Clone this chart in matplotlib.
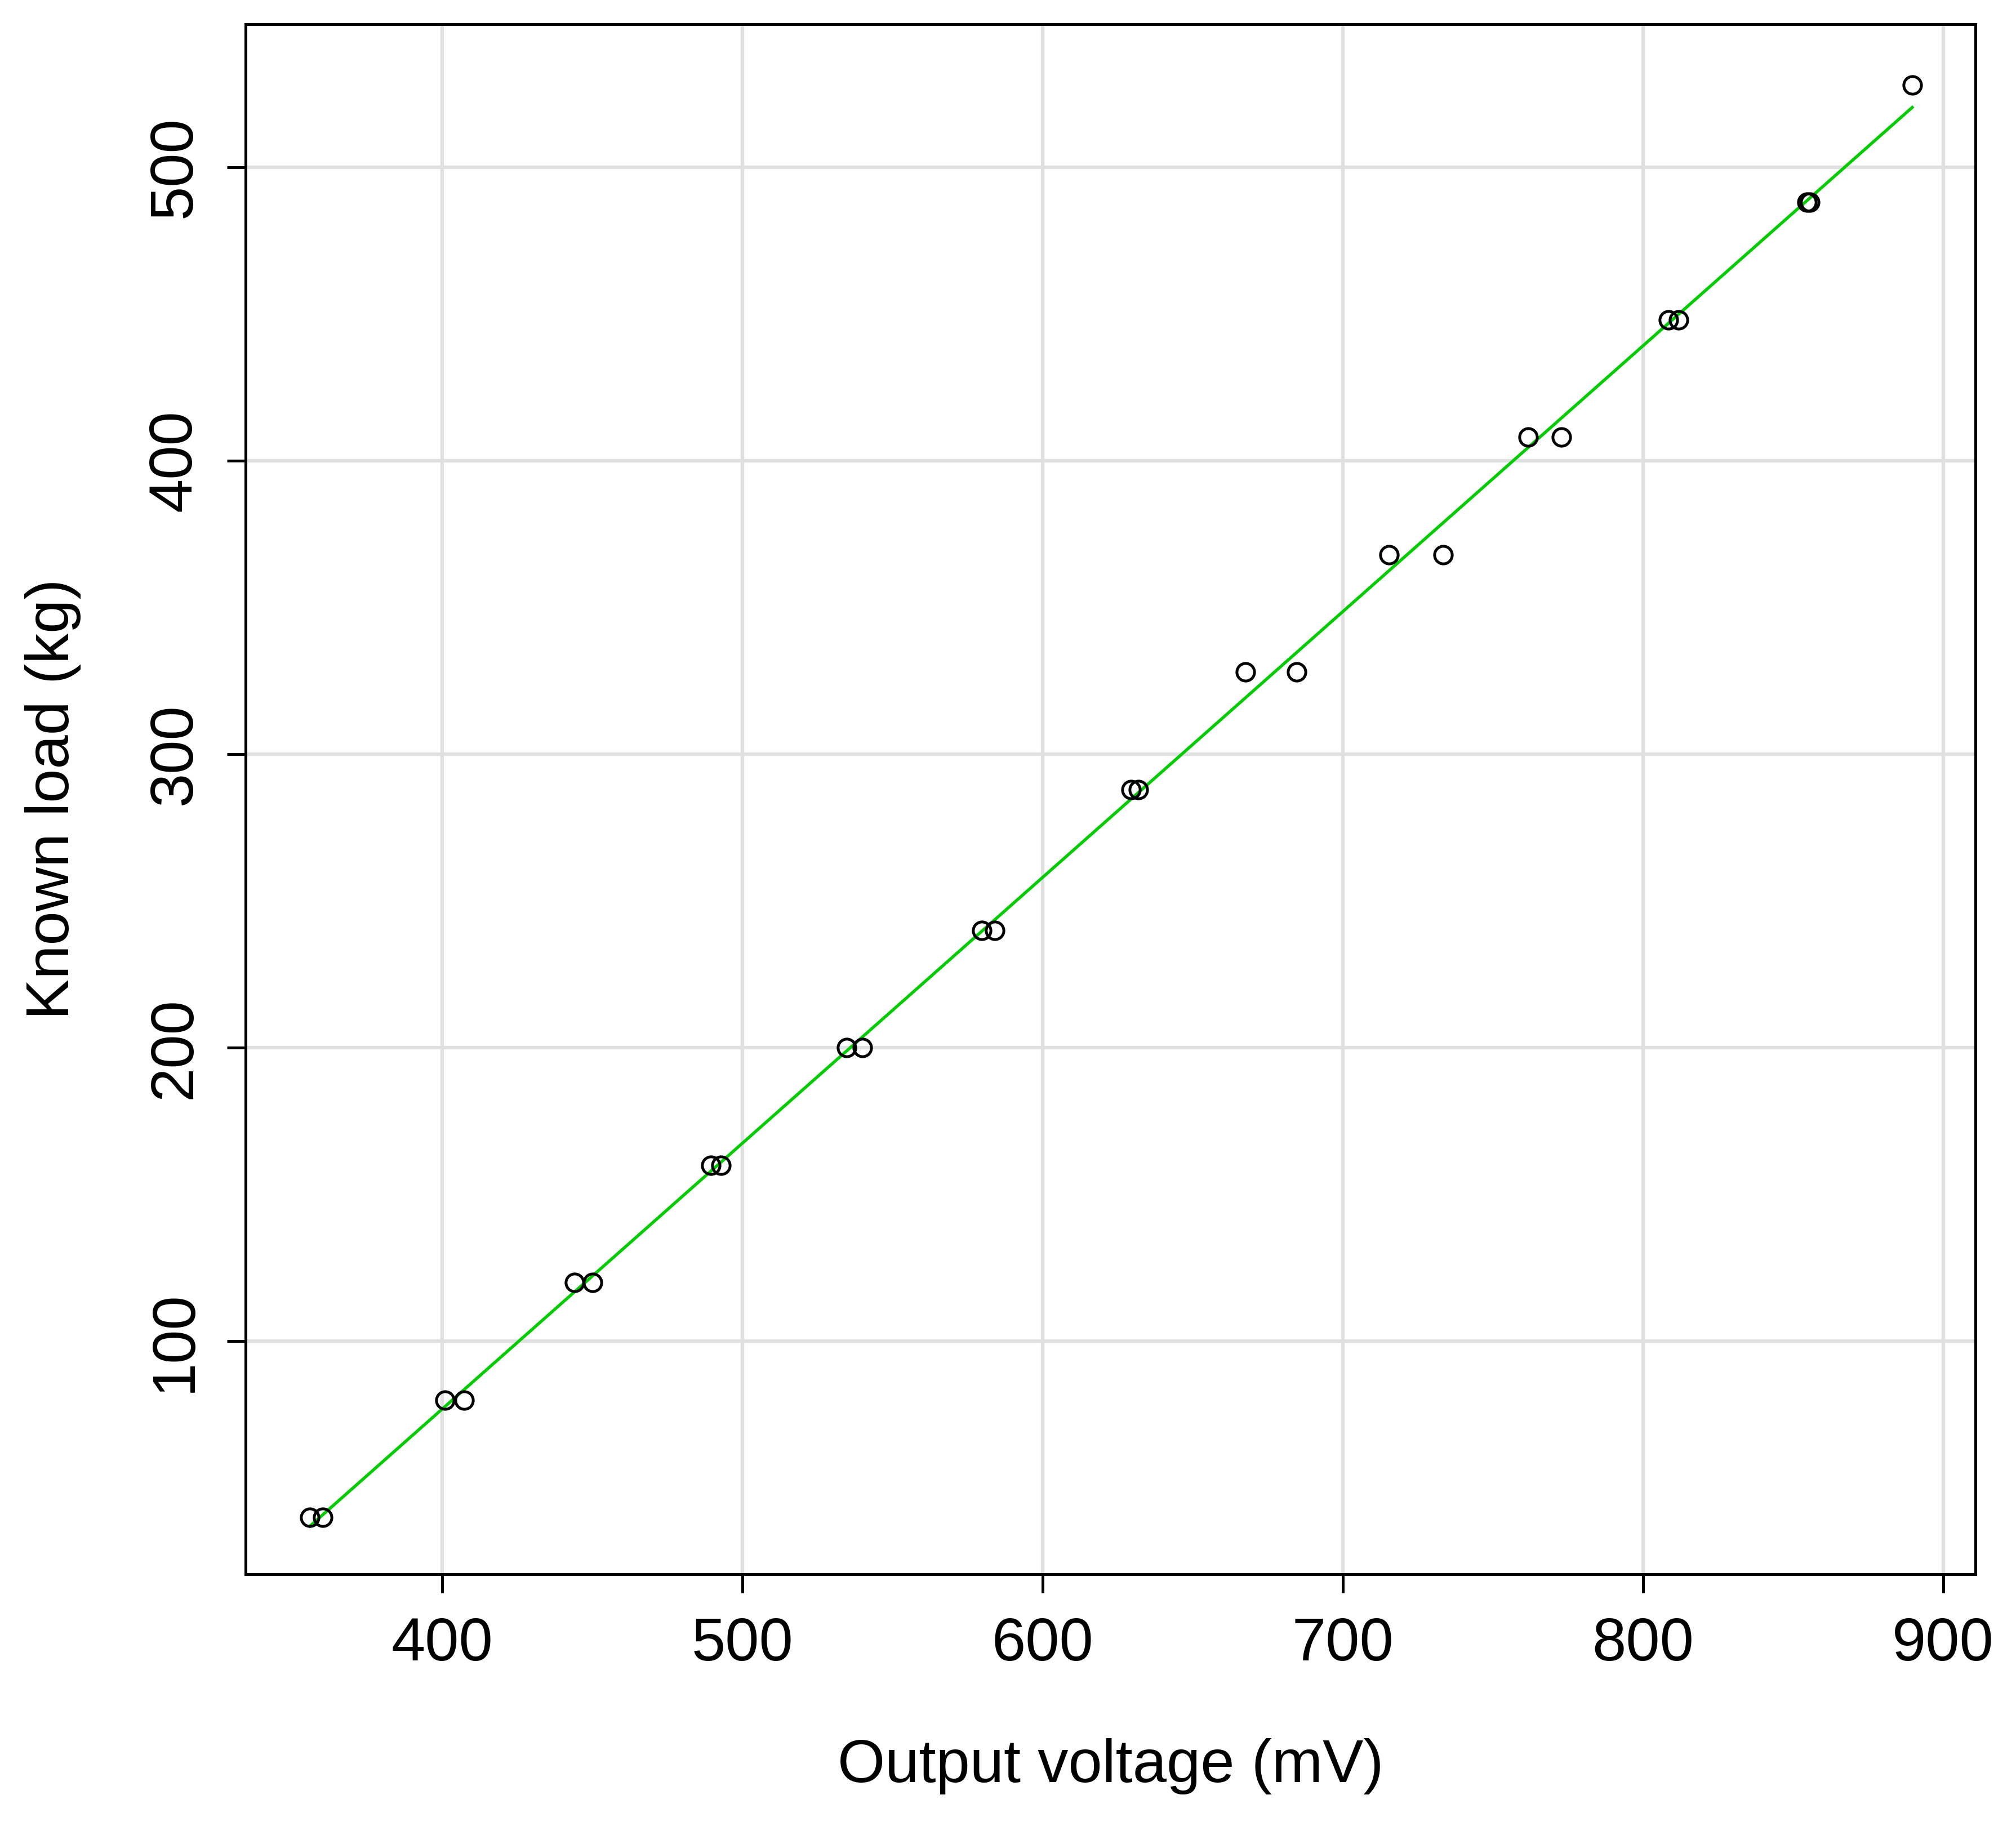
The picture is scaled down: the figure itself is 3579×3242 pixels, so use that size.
import numpy as np
import matplotlib
matplotlib.use("Agg")
import matplotlib.pyplot as plt

plt.rcParams['font.family'] = ['Liberation Sans', 'DejaVu Sans']

voltage = [355.9, 360.2, 400.9, 407.3, 444.1, 450.1, 489.5, 492.9, 534.8, 540.0,
           579.8, 584.1, 629.5, 632.0, 667.5, 684.7, 715.5, 733.5, 761.7, 772.9,
           808.4, 811.8, 854.6, 855.5, 889.7]
load = [40, 40, 80, 80, 120, 120, 160, 160, 200, 200,
        240, 240, 288, 288, 328, 328, 368, 368, 408, 408,
        448, 448, 488, 488, 528]
xticks = [400, 500, 600, 700, 800, 900]
yticks = [100, 200, 300, 400, 500]

fig = plt.figure(figsize=(3579/300, 3242/300), dpi=300)
ax = fig.add_axes([0.1218, 0.138, 0.858, 0.8486])
ax.set_xlim(334.5, 910.7)
ax.set_ylim(20.7, 548.6)
ax.set_xticks(xticks)
ax.set_yticks(yticks)
ax.grid(True, color='#e0e0e0', linewidth=1.5)
ax.set_axisbelow(True)

x = np.array(voltage); y = np.array(load)
b, a = np.polyfit(x, y, 1)
xs = np.array([x.min(), x.max()])
ax.plot(xs, a + b * xs, color='#00cc00', linewidth=1.3)
ax.plot(x, y, 'o', mfc='none', mec='black', ms=7.5, mew=1.2)

ax.tick_params(labelsize=26, length=8, width=1.2, pad=10)
for lab in ax.get_yticklabels():
    lab.set_rotation(90); lab.set_va('center')
for s in ax.spines.values():
    s.set_linewidth(1.2)
ax.set_xlabel('Output voltage (mV)', fontsize=26, labelpad=28)
ax.set_ylabel('Known load (kg)', fontsize=26, labelpad=28)
fig.savefig('out.png', dpi=300)
